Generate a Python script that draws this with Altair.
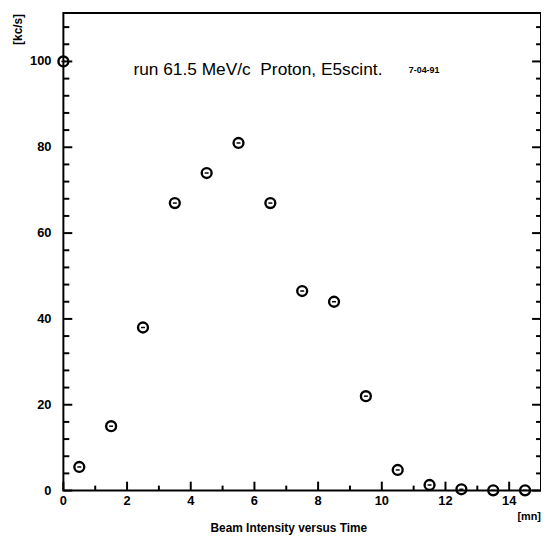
import altair as alt
import pandas as pd

# data
time_mn = [0, 0.5, 1.5, 2.5, 3.5, 4.5, 5.5, 6.5, 7.5, 8.5, 9.5, 10.5, 11.5, 12.5, 13.5, 14.5]
rate_kcs = [100, 5.5, 15, 38, 67, 74, 81, 67, 46.5, 44, 22, 4.8, 1.3, 0.3, 0.05, 0.05]

x_major = [0, 2, 4, 6, 8, 10, 12, 14]
x_minor = [1, 3, 5, 7, 9, 11, 13, 15]
y_major = [0, 20, 40, 60, 80, 100]
y_minor = [v for v in range(0, 112, 4) if v % 20 != 0]

title_text = "run 61.5 MeV/c\u00a0\u00a0Proton, E5scint."
date_text = "7-04-91"
unit_x = "[mn]"
unit_y = "[kc/s]"
x_title = "Beam Intensity versus Time"

df = pd.DataFrame({"t": time_mn, "r": rate_kcs})

FONT = "Liberation Sans"
W, H = 483, 483
xs = alt.Scale(domain=[0, 15], nice=False, zero=False)
ys = alt.Scale(domain=[0, 111.3], nice=False, zero=False)

base = alt.Chart(df)

points = base.mark_point(shape="circle", size=100, filled=False, stroke="black",
                         strokeWidth=2.4, opacity=1, clip=False).encode(
    x=alt.X("t:Q", scale=xs, axis=None),
    y=alt.Y("r:Q", scale=ys, axis=None),
)
dash = base.mark_tick(orient="horizontal", size=4, thickness=1.5, color="black",
                      opacity=1, clip=False).encode(
    x=alt.X("t:Q", scale=xs, axis=None),
    y=alt.Y("r:Q", scale=ys, axis=None),
)

xmaj = pd.DataFrame({"v": x_major, "lab": [str(v) for v in x_major]})
xmin = pd.DataFrame({"v": x_minor})
ymaj = pd.DataFrame({"v": y_major, "lab": [str(v) for v in y_major]})
ymin = pd.DataFrame({"v": y_minor})

def xticks(d, length):
    return alt.Chart(d).mark_rule(color="black", strokeWidth=2).encode(
        x=alt.X("v:Q", scale=xs, axis=None),
        y=alt.value(H), y2=alt.value(H - length))

def yticks_left(d, length):
    return alt.Chart(d).mark_rule(color="black", strokeWidth=2).encode(
        y=alt.Y("v:Q", scale=ys, axis=None),
        x=alt.value(0), x2=alt.value(length))

def yticks_right(d, length):
    return alt.Chart(d).mark_rule(color="black", strokeWidth=2).encode(
        y=alt.Y("v:Q", scale=ys, axis=None),
        x=alt.value(W), x2=alt.value(W - length))

tick_layers = [
    xticks(xmaj, 9), xticks(xmin, 5),
    yticks_left(ymaj, 9), yticks_left(ymin, 6),
    yticks_right(ymaj, 9), yticks_right(ymin, 5),
]

xlabels = alt.Chart(xmaj).mark_text(
    font=FONT, fontSize=13, fontWeight="bold", align="center", baseline="top",
    color="black").encode(
    x=alt.X("v:Q", scale=xs, axis=None), y=alt.value(H + 5), text="lab:N")
ylabels = alt.Chart(ymaj).mark_text(
    font=FONT, fontSize=13, fontWeight="bold", align="right", baseline="middle",
    color="black").encode(
    y=alt.Y("v:Q", scale=ys, axis=None), x=alt.value(-12), text="lab:N")

ann = pd.DataFrame({
    "x": [2.2, 10.85, 14.63],
    "y": [97.9, 97.9, -6.2],
    "label": [title_text, date_text, unit_x],
})

title_mark = alt.Chart(ann.iloc[[0]]).mark_text(
    font=FONT, fontSize=17.5, align="left", baseline="middle", color="black").encode(
    x=alt.X("x:Q", scale=xs, axis=None), y=alt.Y("y:Q", scale=ys, axis=None),
    text="label:N")
date_mark = alt.Chart(ann.iloc[[1]]).mark_text(
    font=FONT, fontSize=9, fontWeight="bold", align="left", baseline="middle",
    color="black").encode(
    x=alt.X("x:Q", scale=xs, axis=None), y=alt.Y("y:Q", scale=ys, axis=None),
    text="label:N")
unit_mark = alt.Chart(ann.iloc[[2]]).mark_text(
    font=FONT, fontSize=11, fontWeight="bold", align="center", baseline="middle",
    color="black", clip=False).encode(
    x=alt.X("x:Q", scale=xs, axis=None), y=alt.Y("y:Q", scale=ys, axis=None),
    text="label:N")

labels = pd.DataFrame({"label": [unit_y]})
ylab_mark = alt.Chart(labels).mark_text(
    font=FONT, fontSize=12, fontWeight="bold", angle=270, align="right",
    baseline="middle", color="black").encode(
    x=alt.value(-46), y=alt.value(1), text="label:N")

xt = pd.DataFrame({"label": [x_title]})
xtitle_mark = alt.Chart(xt).mark_text(
    font=FONT, fontSize=12, fontWeight="bold", align="center",
    baseline="middle", color="black").encode(
    x=alt.value(228), y=alt.value(H + 38), text="label:N")

chart = alt.layer(points, dash, *tick_layers, xlabels, ylabels, title_mark,
                  date_mark, unit_mark, ylab_mark, xtitle_mark).properties(
    width=W, height=H,
    autosize=alt.AutoSizeParams(type="none"),
    padding={"left": 56, "top": 2, "right": 0, "bottom": 48},
    background="white",
).configure_view(stroke="black", strokeWidth=2)

chart.save("out.html", embed_options={"renderer": "svg", "actions": False})
